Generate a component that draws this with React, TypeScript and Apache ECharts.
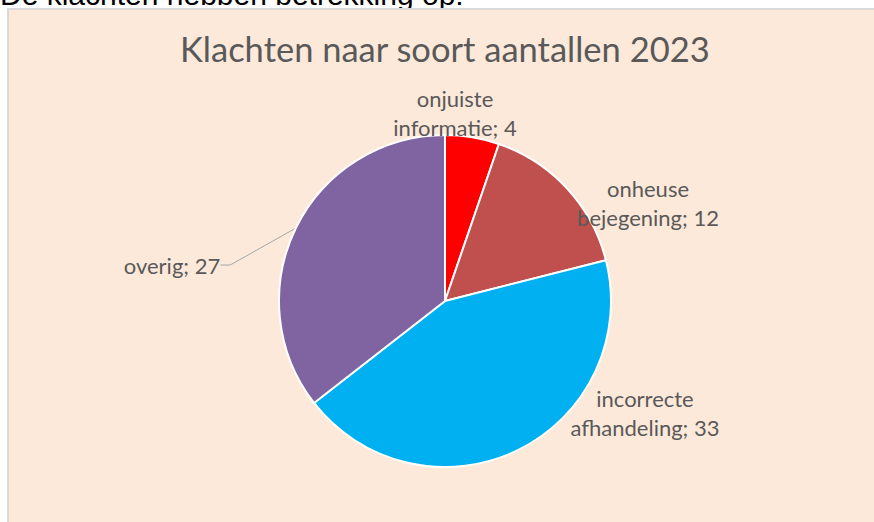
import React, { useEffect, useRef } from "react";
import * as echarts from "echarts";

const categories = ["onjuiste informatie", "onheuse bejegening", "incorrecte afhandeling", "overig"];
const values = [4, 12, 33, 27];
const colors = ["#FF0000", "#C0504D", "#00B0F0", "#8064A2"];
const labelTexts = ["onjuiste\ninformatie; 4", "onheuse\nbejegening; 12", "incorrecte\nafhandeling; 33", "overig; 27"];
const titleText = "Klachten naar soort aantallen 2023";
const introText = "De klachten hebben betrekking op:";

// label anchor positions (layout only)
const labelPos = [
  { x: 455, y: 113 },
  { x: 648, y: 203 },
  { x: 645, y: 413 },
  { x: 172, y: 265 },
];

export default function App() {
  const ref = useRef<HTMLDivElement>(null);
  useEffect(() => {
    if (!ref.current) return;
    const chart = echarts.init(ref.current, null, { renderer: "svg" });
    chart.setOption({
      animation: false,
      backgroundColor: "#ffffff",
      graphic: [
        {
          type: "rect",
          shape: { x: 8, y: 9, width: 870, height: 520 },
          style: { fill: "#FDE9D9", stroke: "#D9D9D9", lineWidth: 2 },
          z: -10,
        },
        {
          type: "text",
          x: 0,
          y: 9,
          z: -20,
          style: {
            text: introText,
            font: "30px 'Liberation Sans', Arial, sans-serif",
            fill: "#000000",
            textVerticalAlign: "bottom",
          },
        },
      ],
      title: {
        text: titleText,
        left: 180,
        top: 31,
        textStyle: {
          fontFamily: "Lato",
          fontSize: 34.5,
          fontWeight: "normal",
          color: "#595959",
        },
        padding: 0,
      },
      series: [
        {
          type: "pie",
          center: [445, 301],
          radius: 166,
          startAngle: 90,
          clockwise: true,
          data: categories.map((c, i) => ({
            name: c,
            value: values[i],
            itemStyle: { color: colors[i] },
            label: { formatter: labelTexts[i] },
            labelLine: { show: i === 3 },
          })),
          itemStyle: { borderColor: "#ffffff", borderWidth: 2 },
          label: {
            show: true,
            position: "outside",
            fontFamily: "Lato",
            fontSize: 22,
            lineHeight: 29,
            color: "#595959",
            align: "center",
          },
          labelLine: {
            show: true,
            length: 10,
            length2: 10,
            lineStyle: { color: "#A6A6A6", width: 1 },
          },
          labelLayout: (params: any) => {
            const p = labelPos[params.dataIndex];
            return { x: p.x, y: p.y, align: "center", verticalAlign: "middle" };
          },
        },
      ],
    });
    return () => chart.dispose();
  }, []);
  return (
    <div
      ref={ref}
      style={{ position: "fixed", left: 0, top: 0, width: 874, height: 522 }}
    />
  );
}
